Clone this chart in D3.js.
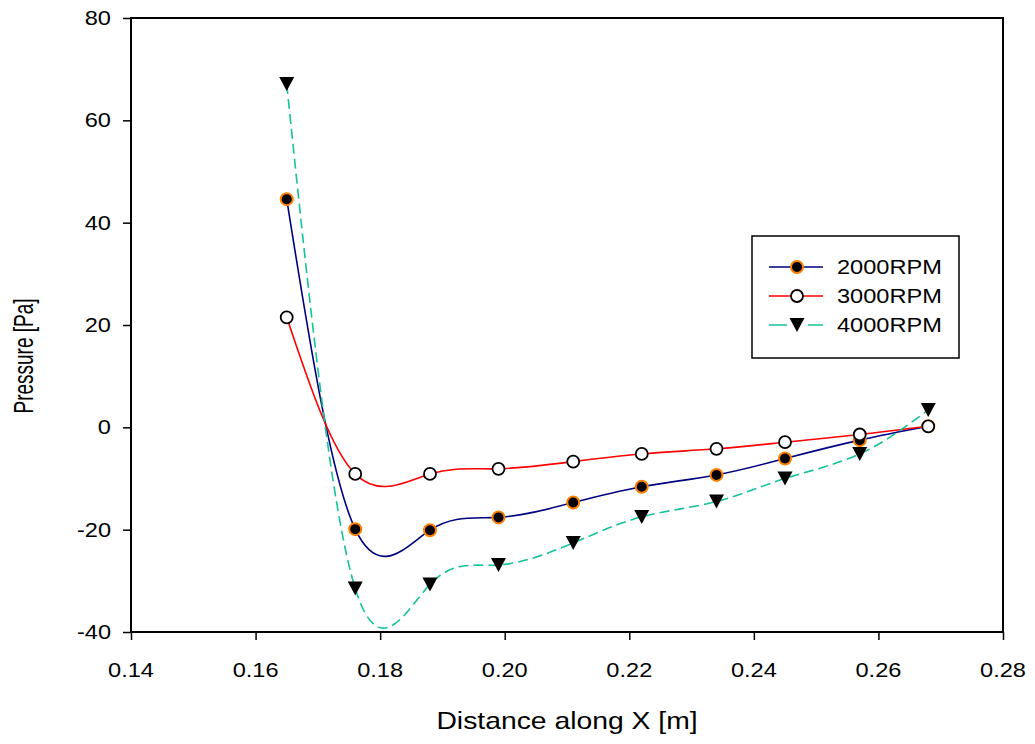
<!DOCTYPE html>
<html>
<head>
<meta charset="utf-8">
<script src="https://cdn.jsdelivr.net/npm/d3@7"></script>
<style>
  html, body { margin: 0; padding: 0; background: #fff; }
  svg text { font-family: "Liberation Sans", Arial, sans-serif; fill: #000; }
</style>
</head>
<body>
<svg id="chart" width="1035" height="744"></svg>
<script>
// Positions along X [m]
const distance = [0.165, 0.176, 0.188, 0.199, 0.211, 0.222, 0.234, 0.245, 0.257, 0.268];
// Pressure [Pa] for each rotor speed
const rpm2000 = [44.6, -19.9, -20.1, -17.6, -14.7, -11.6, -9.3, -6.1, -2.5, 0.2];
const rpm3000 = [21.5, -9.1, -9.1, -8.1, -6.7, -5.2, -4.2, -2.9, -1.4, 0.2];
const rpm4000 = [67.1, -31.5, -30.7, -26.9, -22.6, -17.5, -14.5, -10.0, -5.2, 3.4];
const seriesNames = ["2000RPM", "3000RPM", "4000RPM"];
const xTicks = [0.14, 0.16, 0.18, 0.20, 0.22, 0.24, 0.26, 0.28];
const yTicks = [-40, -20, 0, 20, 40, 60, 80];

const svg = d3.select("#chart");
const plot = { left: 131, right: 1003, top: 18, bottom: 632 };
const TEXT_SX = 1.18;

const x = d3.scaleLinear().domain([0.14, 0.28]).range([plot.left, plot.right]);
const y = d3.scaleLinear().domain([-40, 80]).range([plot.bottom, plot.top]);

// Horizontally widened text, as in the chart's typeface
function label(g, tx, ty, str, size, anchor) {
  return g.append("text")
    .attr("transform", `translate(${tx},${ty}) scale(${TEXT_SX},1)`)
    .attr("text-anchor", anchor || "start")
    .style("font-size", size + "px")
    .text(str);
}

// Frame
svg.append("rect")
  .attr("x", plot.left).attr("y", plot.top)
  .attr("width", plot.right - plot.left).attr("height", plot.bottom - plot.top)
  .attr("fill", "none").attr("stroke", "#000").attr("stroke-width", 2);

// X axis
const xAxis = svg.append("g").attr("transform", `translate(0,${plot.bottom})`)
  .call(d3.axisBottom(x).tickValues(xTicks).tickSize(8).tickFormat(""));
xAxis.select(".domain").remove();
xAxis.selectAll(".tick line").attr("stroke", "#000").attr("stroke-width", 1.5);
xTicks.forEach(t => label(svg, x(t), 677, d3.format(".2f")(t), 20, "middle"));

// Y axis
const yAxis = svg.append("g").attr("transform", `translate(${plot.left},0)`)
  .call(d3.axisLeft(y).tickValues(yTicks).tickSize(8).tickFormat(""));
yAxis.select(".domain").remove();
yAxis.selectAll(".tick line").attr("stroke", "#000").attr("stroke-width", 1.5);
yTicks.forEach(t => label(svg, 111, y(t) + 7, String(t), 20, "end"));

// Axis titles
label(svg, (plot.left + plot.right) / 2, 729, "Distance along X [m]", 24, "middle");
svg.append("text")
  .attr("transform", "translate(33,356) rotate(-90) scale(1,1.45)")
  .attr("text-anchor", "middle")
  .style("font-size", "19px")
  .text("Pressure [Pa]");

// Series styling
const styles = [
  { values: rpm2000, color: "#000080", dash: null, legendDash: null, marker: "dotOrange" },
  { values: rpm3000, color: "#ff0000", dash: null, legendDash: null, marker: "circleOpen" },
  { values: rpm4000, color: "#14c39a", dash: "10,5", legendDash: "18,21,15", marker: "triangle" }
];

const line = d3.line().x(d => x(d[0])).y(d => y(d[1])).curve(d3.curveNatural);

styles.forEach(s => {
  svg.append("path")
    .datum(distance.map((d, i) => [d, s.values[i]]))
    .attr("d", line)
    .attr("fill", "none")
    .attr("stroke", s.color)
    .attr("stroke-width", 1.6)
    .attr("stroke-dasharray", s.dash);
});

function drawMarker(g, kind, cx, cy) {
  if (kind === "dotOrange") {
    g.append("circle").attr("cx", cx).attr("cy", cy).attr("r", 6)
      .attr("fill", "#000").attr("stroke", "#ff8000").attr("stroke-width", 2);
  } else if (kind === "circleOpen") {
    g.append("circle").attr("cx", cx).attr("cy", cy).attr("r", 6)
      .attr("fill", "#fff").attr("stroke", "#000").attr("stroke-width", 1.8);
  } else {
    g.append("path")
      .attr("d", `M${cx - 7.5},${cy - 7}L${cx + 7.5},${cy - 7}L${cx},${cy + 7}Z`)
      .attr("fill", "#000");
  }
}

const markers = svg.append("g");
[0, 2, 1].forEach(k => {
  const s = styles[k];
  distance.forEach((d, i) => drawMarker(markers, s.marker, x(d), y(s.values[i])));
});

// Legend
const legend = svg.append("g");
legend.append("rect")
  .attr("x", 752).attr("y", 236).attr("width", 207).attr("height", 122)
  .attr("fill", "#fff").attr("stroke", "#000").attr("stroke-width", 1.5);
const rowY = [267, 296, 325];
styles.forEach((s, i) => {
  legend.append("line")
    .attr("x1", 769).attr("x2", 823).attr("y1", rowY[i]).attr("y2", rowY[i])
    .attr("stroke", s.color).attr("stroke-width", 1.6)
    .attr("stroke-dasharray", s.legendDash);
  drawMarker(legend, s.marker, 797, rowY[i]);
  label(legend, 837, rowY[i] + 7, seriesNames[i], 20, "start");
});
</script>
</body>
</html>
